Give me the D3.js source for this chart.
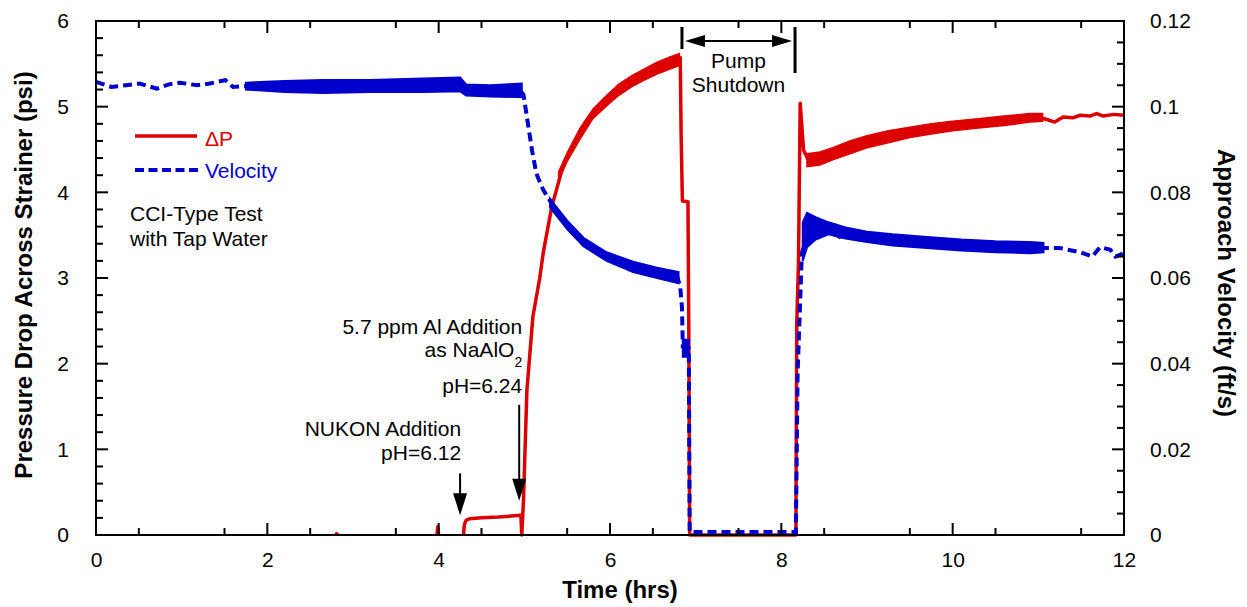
<!DOCTYPE html>
<html><head><meta charset="utf-8">
<script src="https://cdn.jsdelivr.net/npm/d3@7"></script>
<style>
body{margin:0;background:#fff}
text{font-family:Arial,"Liberation Sans",sans-serif;fill:#000}
</style>
</head><body>
<svg id="chart" width="1247" height="607"></svg>
<script>
// ---------------- data ----------------
const xTickValues = [0, 2, 4, 6, 8, 10, 12];
const yLeftTickValues = [0, 1, 2, 3, 4, 5, 6];
const yRightTickValues = [0, 0.02, 0.04, 0.06, 0.08, 0.1, 0.12];

// Pressure drop (psi) vs time (hrs); NaN = gap in record
const dpTime = [2.80, 2.82, 2.83, 3.98, 3.99, 4.00, 4.01,
  4.29, 4.30, 4.32, 4.36, 4.50, 4.70, 4.96, 4.97, 4.99, 5.03, 5.10, 5.18, 5.22, 5.32, 5.45, 5.65, 5.88,
  6.15, 6.43, 6.66, 6.82, 6.83, 6.845, 6.91, 6.92, 6.93, 8.17, 8.18, 8.20, 8.22, 8.26, 8.33, 8.45, 8.57,
  8.68, 8.95, 9.35, 9.93, 10.52, 11.02, 11.10, 11.19, 11.29, 11.40, 11.49, 11.60, 11.68, 11.76, 11.88, 12.00];
const dpValue = [0, 0.03, NaN, 0, 0.10, 0, NaN,
  0, 0.12, 0.17, 0.19, 0.20, 0.21, 0.23, 0, 0.40, 1.69, 2.55, 3.00, 3.29, 3.83, 4.30, 4.69, 5.00,
  5.23, 5.39, 5.49, 5.57, 4.69, 3.90, 3.89, 2.36, 0, 0, 2.47, 3.17, 5.04, 4.49, 4.35, 4.40, 4.44,
  4.51, 4.57, 4.69, 4.76, 4.82, 4.87, 4.85, 4.82, 4.88, 4.87, 4.90, 4.89, 4.92, 4.89, 4.91, 4.90];

// Scatter envelope of the noisy ΔP record: [time, low, high]
const dpNoiseA = [[5.40, 4.14, 4.24], [5.50, 4.36, 4.46], [5.65, 4.62, 4.75], [5.80, 4.86, 4.97],
  [5.95, 5.00, 5.12], [6.10, 5.13, 5.26], [6.25, 5.23, 5.36], [6.40, 5.31, 5.44], [6.55, 5.38, 5.52],
  [6.70, 5.44, 5.58], [6.81, 5.48, 5.62]];
const dpNoiseB = [[8.30, 4.30, 4.45], [8.45, 4.32, 4.47], [8.60, 4.38, 4.52], [8.80, 4.45, 4.60],
  [9.00, 4.52, 4.66], [9.25, 4.58, 4.72], [9.50, 4.64, 4.76], [9.75, 4.68, 4.80], [10.0, 4.72, 4.83],
  [10.3, 4.75, 4.86], [10.6, 4.78, 4.89], [10.9, 4.82, 4.92], [11.05, 4.83, 4.92]];

// Approach velocity (ft/s) vs time (hrs)
const velTime = [0, 0.18, 0.35, 0.51, 0.71, 0.85, 0.98, 1.18, 1.33, 1.51, 1.60, 1.76, 2.65, 3.82, 4.25,
  4.33, 4.95, 4.99, 5.03, 5.09, 5.14, 5.22, 5.32, 5.50, 5.69, 5.96, 6.27, 6.55, 6.79, 6.82, 6.84, 6.85,
  6.92, 6.93, 8.17, 8.19, 8.24, 8.33, 8.49, 8.68, 8.76, 9.15, 9.73, 10.32, 10.90, 11.06, 11.25, 11.49,
  11.63, 11.72, 11.84, 11.90, 12.00];
const velValue = [0.1058, 0.1046, 0.1050, 0.1054, 0.1042, 0.1052, 0.1056, 0.1050, 0.1054, 0.1062, 0.1046,
  0.1048, 0.1048, 0.1050, 0.1052, 0.1038, 0.1038, 0.1028, 0.0976, 0.0898, 0.0844, 0.0806, 0.0774, 0.0724,
  0.0684, 0.0650, 0.0626, 0.0612, 0.0600, 0.0578, 0.0532, 0.0440, 0.0436, 0.0007, 0.0007, 0.0378, 0.0658,
  0.0720, 0.0720, 0.0696, 0.0704, 0.0688, 0.0682, 0.0672, 0.0670, 0.0670, 0.0670, 0.0660, 0.0650, 0.0672,
  0.0666, 0.0650, 0.0658];

// Scatter envelope of the noisy velocity record: [time, low, high]
const velNoiseA = [[1.75, 0.1040, 0.1056], [2.20, 0.1034, 0.1060], [2.65, 0.1032, 0.1062], [3.20, 0.1034, 0.1062],
  [3.82, 0.1034, 0.1066], [4.25, 0.1036, 0.1068], [4.32, 0.1026, 0.1052], [4.60, 0.1024, 0.1050], [4.97, 0.1022, 0.1054]];
const velNoiseB = [[5.30, 0.0765, 0.0785], [5.50, 0.0714, 0.0734], [5.69, 0.0674, 0.0694], [5.96, 0.0640, 0.0660],
  [6.27, 0.0614, 0.0638], [6.55, 0.0600, 0.0624], [6.80, 0.0588, 0.0614]];
const velNoiseC = [[6.85, 0.0416, 0.0456], [6.92, 0.0416, 0.0456]];
const velNoiseD = [[8.25, 0.0640, 0.0730], [8.30, 0.0672, 0.0752], [8.40, 0.0690, 0.0742], [8.55, 0.0702, 0.0730],
  [8.75, 0.0692, 0.0718], [9.00, 0.0684, 0.0708], [9.30, 0.0676, 0.0702], [9.70, 0.0670, 0.0696],
  [10.1, 0.0664, 0.0690], [10.5, 0.0660, 0.0686], [10.9, 0.0658, 0.0684], [11.06, 0.0660, 0.0682]];

// annotation anchors (data units)
const pumpStart = 6.84, pumpEnd = 8.16;
const nukonTime = 4.25, alTime = 4.94;

// ---------------- drawing ----------------
const RED = "#dd0000", BLUE = "#0000cc";
const FS = 21;
const svg = d3.select("#chart");
const L = 96, R = 1124, T = 21, B = 535;
const x = d3.scaleLinear().domain([0, 12]).range([L, R]);
const yL = d3.scaleLinear().domain([0, 6]).range([B, T]);
const yR = d3.scaleLinear().domain([0, 0.12]).range([B, T]);

const minorX = d3.range(1, 24, 2).map(k => k * 0.5);
const minorYL = d3.range(0, 31).filter(k => k % 5 !== 0).map(k => k * 0.2);
const minorYR = d3.range(0, 25).filter(k => k % 4 !== 0).map(k => k * 0.005);

const dpPts = dpTime.map((t, i) => [t, dpValue[i]]);
const velPts = velTime.map((t, i) => [t, velValue[i]]);

const dpLine = d3.line().defined(d => !isNaN(d[1])).x(d => x(d[0])).y(d => yL(d[1]));
const velLine = d3.line().x(d => x(d[0])).y(d => yR(d[1]));
const dpArea = d3.area().x(d => x(d[0])).y0(d => yL(d[1])).y1(d => yL(d[2]));
const velArea = d3.area().x(d => x(d[0])).y0(d => yR(d[1])).y1(d => yR(d[2]));

[dpNoiseA, dpNoiseB].forEach(b => svg.append("path").attr("d", dpArea(b))
  .attr("fill", RED).attr("stroke", RED).attr("stroke-width", 1.5));
svg.append("path").attr("d", dpLine(dpPts)).attr("fill", "none")
  .attr("stroke", RED).attr("stroke-width", 3.5).attr("stroke-linejoin", "round");

svg.append("path").attr("d", velLine(velPts)).attr("fill", "none")
  .attr("stroke", BLUE).attr("stroke-width", 4).attr("stroke-dasharray", "9,5");
[velNoiseA, velNoiseB, velNoiseC, velNoiseD].forEach(b => svg.append("path").attr("d", velArea(b))
  .attr("fill", BLUE).attr("stroke", BLUE).attr("stroke-width", 2));

// frame
svg.append("rect").attr("x", L).attr("y", T).attr("width", R - L).attr("height", B - T)
  .attr("fill", "none").attr("stroke", "#000").attr("stroke-width", 2);

// tick marks (inward)
const tickRects = [];
xTickValues.forEach(v => { tickRects.push([x(v) - 1, B - 12, 2, 12], [x(v) - 1, T, 2, 12]); });
minorX.forEach(v => { tickRects.push([x(v) - 1, B - 7, 2, 7], [x(v) - 1, T, 2, 7]); });
yLeftTickValues.forEach(v => { tickRects.push([L, yL(v) - 1, 12, 2]); });
minorYL.forEach(v => { tickRects.push([L, yL(v) - 1, 7, 2]); });
yRightTickValues.forEach(v => { tickRects.push([R - 12, yR(v) - 1, 12, 2]); });
minorYR.forEach(v => { tickRects.push([R - 7, yR(v) - 1, 7, 2]); });
svg.append("g").selectAll("rect").data(tickRects).join("rect")
  .attr("x", d => d[0]).attr("y", d => d[1]).attr("width", d => d[2]).attr("height", d => d[3])
  .attr("fill", "#000");

// tick labels
function styleAxis(g) {
  g.select(".domain").remove();
  g.selectAll(".tick line").remove();
  g.selectAll(".tick text").attr("font-size", FS).attr("font-family", "Arial, 'Liberation Sans', sans-serif").attr("fill", "#000");
}
svg.append("g").attr("transform", `translate(0,${B})`)
  .call(d3.axisBottom(x).tickValues(xTickValues).tickSize(0).tickPadding(17).tickFormat(d3.format("d"))).call(styleAxis);
svg.append("g").attr("transform", `translate(${L},0)`)
  .call(d3.axisLeft(yL).tickValues(yLeftTickValues).tickSize(0).tickPadding(27).tickFormat(d3.format("d"))).call(styleAxis);
svg.append("g").attr("transform", `translate(${R},0)`)
  .call(d3.axisRight(yR).tickValues(yRightTickValues).tickSize(0).tickPadding(26)
    .tickFormat(d => d === 0 ? "0" : String(+d.toFixed(2)))).call(styleAxis);

// axis titles
svg.append("text").attr("x", 620).attr("y", 598).attr("text-anchor", "middle")
  .attr("font-size", 24).attr("font-weight", "bold").text("Time (hrs)");
svg.append("text").attr("transform", "translate(32,275) rotate(-90)").attr("text-anchor", "middle")
  .attr("font-size", 24).attr("font-weight", "bold").text("Pressure Drop Across Strainer (psi)");
svg.append("text").attr("transform", "translate(1218,283) rotate(90)").attr("text-anchor", "middle")
  .attr("font-size", 24).attr("font-weight", "bold").text("Approach Velocity (ft/s)");

// legend
svg.append("line").attr("x1", 135).attr("x2", 197).attr("y1", 136).attr("y2", 136)
  .attr("stroke", RED).attr("stroke-width", 3.5);
svg.append("text").attr("x", 205).attr("y", 146).attr("font-size", FS).style("fill", RED).text("ΔP");
svg.append("line").attr("x1", 135).attr("x2", 198).attr("y1", 170).attr("y2", 170)
  .attr("stroke", BLUE).attr("stroke-width", 4).attr("stroke-dasharray", "9,4.5");
svg.append("text").attr("x", 205).attr("y", 178).attr("font-size", FS).style("fill", BLUE).text("Velocity");
svg.append("text").attr("x", 130).attr("y", 221).attr("font-size", FS).text("CCI-Type Test");
svg.append("text").attr("x", 130).attr("y", 246).attr("font-size", FS).text("with Tap Water");

// annotation arrows
function downArrow(t, fromPsi, tipPsi) {
  const ax = x(t), y0 = yL(fromPsi), y1 = yL(tipPsi);
  svg.append("line").attr("x1", ax).attr("x2", ax).attr("y1", y0).attr("y2", y1 - 18)
    .attr("stroke", "#000").attr("stroke-width", 2);
  svg.append("path").attr("d", `M${ax - 7},${y1 - 22}L${ax + 7},${y1 - 22}L${ax},${y1}Z`).attr("fill", "#000");
}
downArrow(nukonTime, 0.72, 0.23);
downArrow(alTime, 1.52, 0.40);

const nx = x(nukonTime) + 1;
svg.append("text").attr("x", nx).attr("y", 436).attr("text-anchor", "end").attr("font-size", FS).text("NUKON Addition");
svg.append("text").attr("x", nx).attr("y", 460).attr("text-anchor", "end").attr("font-size", FS).text("pH=6.12");
const ax2 = x(alTime) + 3;
svg.append("text").attr("x", ax2).attr("y", 334).attr("text-anchor", "end").attr("font-size", FS).text("5.7 ppm Al Addition");
const t2 = svg.append("text").attr("x", ax2).attr("y", 357).attr("text-anchor", "end").attr("font-size", FS);
t2.append("tspan").text("as NaAlO");
t2.append("tspan").attr("dy", 10).attr("font-size", 14).text("2");
svg.append("text").attr("x", ax2).attr("y", 393).attr("text-anchor", "end").attr("font-size", FS).text("pH=6.24");

// pump shutdown marker
const p1 = x(pumpStart), p2 = x(pumpEnd);
svg.append("line").attr("x1", p1).attr("x2", p1).attr("y1", 27).attr("y2", 49).attr("stroke", "#000").attr("stroke-width", 3);
svg.append("line").attr("x1", p2).attr("x2", p2).attr("y1", 27).attr("y2", 73).attr("stroke", "#000").attr("stroke-width", 3);
svg.append("line").attr("x1", p1 + 20).attr("x2", p2 - 20).attr("y1", 41).attr("y2", 41).attr("stroke", "#000").attr("stroke-width", 2);
svg.append("path").attr("d", `M${p1 + 3},41L${p1 + 23},35L${p1 + 23},47Z`).attr("fill", "#000");
svg.append("path").attr("d", `M${p2 - 3},41L${p2 - 23},35L${p2 - 23},47Z`).attr("fill", "#000");
const pc = (p1 + p2) / 2;
svg.append("text").attr("x", pc).attr("y", 68).attr("text-anchor", "middle").attr("font-size", FS).text("Pump");
svg.append("text").attr("x", pc).attr("y", 92).attr("text-anchor", "middle").attr("font-size", FS).text("Shutdown");
</script>
</body></html>
